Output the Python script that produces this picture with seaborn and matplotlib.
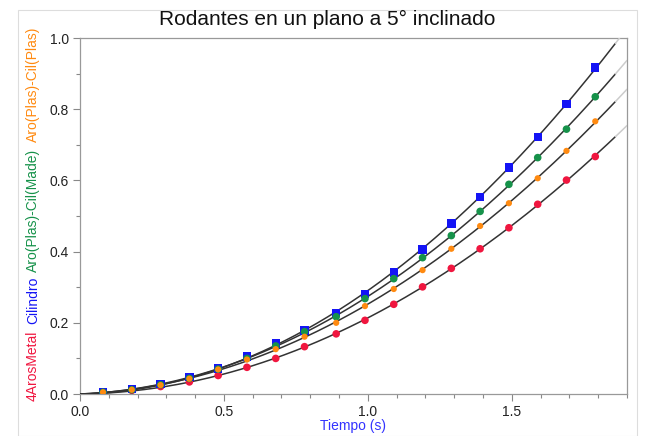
import numpy as np
import pandas as pd
import matplotlib
matplotlib.use("Agg")
import matplotlib.pyplot as plt
import seaborn as sns
from matplotlib.ticker import MultipleLocator
from matplotlib.patches import Rectangle

# time of each marked sample (s)
tiempo = [0.08, 0.18, 0.28, 0.38, 0.48, 0.58, 0.68, 0.78, 0.89, 0.99,
          1.09, 1.19, 1.29, 1.39, 1.49, 1.59, 1.69, 1.79]

# position (m)
cilindro = [0.006, 0.014, 0.028, 0.047, 0.072, 0.105, 0.142, 0.178, 0.228, 0.281,
            0.341, 0.406, 0.479, 0.554, 0.636, 0.722, 0.815, 0.917]
aro_cil_made = [0.005, 0.012, 0.026, 0.044, 0.070, 0.100, 0.135, 0.175, 0.217, 0.268,
                0.324, 0.383, 0.445, 0.513, 0.589, 0.664, 0.744, 0.835]
aro_cil_plas = [0.005, 0.012, 0.025, 0.043, 0.069, 0.097, 0.126, 0.161, 0.200, 0.247,
                0.295, 0.348, 0.408, 0.472, 0.536, 0.606, 0.683, 0.766]
aros_metal = [0.004, 0.010, 0.021, 0.034, 0.052, 0.075, 0.100, 0.133, 0.169, 0.207,
              0.252, 0.301, 0.353, 0.408, 0.467, 0.533, 0.601, 0.667]

series = ["4ArosMetal", "Cilindro", "Aro(Plas)-Cil(Made)", "Aro(Plas)-Cil(Plas)"]
colores = {"4ArosMetal": "#f0163f", "Cilindro": "#1414f5",
           "Aro(Plas)-Cil(Made)": "#16924a", "Aro(Plas)-Cil(Plas)": "#ff8a10"}
valores = {"4ArosMetal": aros_metal, "Cilindro": cilindro,
           "Aro(Plas)-Cil(Made)": aro_cil_made, "Aro(Plas)-Cil(Plas)": aro_cil_plas}

rows = []
for s in series:
    for t, y in zip(tiempo, valores[s]):
        rows.append({"t": t, "x": y, "serie": s})
df = pd.DataFrame(rows)

sns.set_style("white")
plt.rcParams['font.family'] = ['Liberation Sans', 'DejaVu Sans']

fig = plt.figure(figsize=(6.47, 4.36), dpi=100)
ax = fig.add_axes([0.1236, 0.0963, 0.969 - 0.1236, 0.9128 - 0.0963])

# fits x = A t^2 + B t (through the origin), black inside the data range, grey beyond
t_arr = np.array(tiempo)
basis = np.column_stack([t_arr ** 2, t_arr])
tt = np.linspace(0, 1.86, 200)
tt2 = np.linspace(1.86, 1.9, 20)
for s in series:
    (A, B), *_ = np.linalg.lstsq(basis, np.array(valores[s]), rcond=None)
    ax.plot(tt, A * tt ** 2 + B * tt, color="#333333", lw=1.1, zorder=3)
    ax.plot(tt2, A * tt2 ** 2 + B * tt2, color="#cccccc", lw=1.1, zorder=3)

sns.scatterplot(data=df, x="t", y="x", hue="serie", style="serie",
                palette=colores,
                markers={"4ArosMetal": "o", "Cilindro": "s",
                         "Aro(Plas)-Cil(Made)": "o", "Aro(Plas)-Cil(Plas)": "o"},
                size="serie",
                sizes={"4ArosMetal": 30, "Cilindro": 36,
                       "Aro(Plas)-Cil(Made)": 30, "Aro(Plas)-Cil(Plas)": 20},
                edgecolor="none", legend=False, ax=ax, zorder=4)

ax.set_xlim(0, 1.9)
ax.set_ylim(0, 1.0)
ax.xaxis.set_major_locator(MultipleLocator(0.5))
ax.xaxis.set_minor_locator(MultipleLocator(0.1))
ax.yaxis.set_major_locator(MultipleLocator(0.2))
ax.yaxis.set_minor_locator(MultipleLocator(0.1))
ax.tick_params(which="major", direction="out", length=5, width=0.8, color="#888888",
               labelsize=10, labelcolor="#222222", bottom=True, left=True, pad=3)
ax.tick_params(which="minor", direction="out", length=3, width=0.8, color="#888888",
               bottom=True, left=True)
for sp in ax.spines.values():
    sp.set_color("#999999")
    sp.set_linewidth(0.9)

ax.set_xlabel("Tiempo (s)", color="#3333ff", fontsize=10)
ax.xaxis.label.set_va("center")
ax.xaxis.set_label_coords(0.5, -32 / 356)
ax.set_ylabel("")

fig.text(327 / 647, 1 - 19 / 436, "Rodantes en un plano a 5° inclinado",
         fontsize=15, color="#111111", ha="center", va="center")

# stacked coloured y-axis label
label_pos = {"4ArosMetal": 366, "Cilindro": 300,
             "Aro(Plas)-Cil(Made)": 210, "Aro(Plas)-Cil(Plas)": 84}
for s in series:
    fig.text(33 / 647, 1 - label_pos[s] / 436, s, rotation=90, color=colores[s],
             fontsize=10, ha="center", va="center")

fig.patches.append(Rectangle((18 / 647, 0.0), (637 - 18) / 647, 1 - 10 / 436,
                             transform=fig.transFigure, fill=False,
                             edgecolor="#dddddd", lw=0.8))

fig.savefig("out.png", dpi=100)
